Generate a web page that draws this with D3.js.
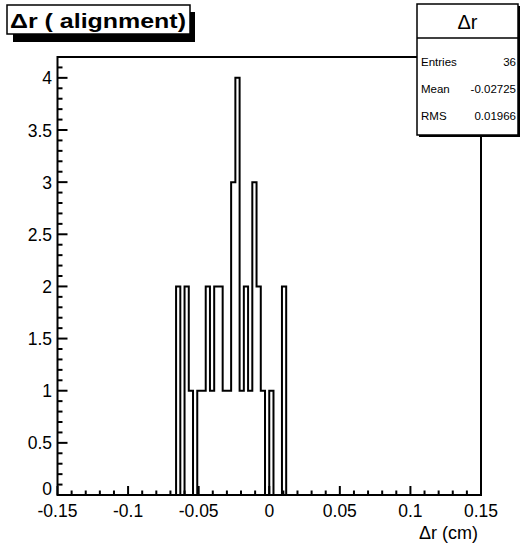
<!DOCTYPE html>
<html>
<head>
<meta charset="utf-8">
<script src="https://cdn.jsdelivr.net/npm/d3@7"></script>
<style>
	body{margin:0;background:#fff;}
	svg{display:block;font-family:"Liberation Sans",Arial,Helvetica,sans-serif;}
</style>
</head>
<body>
<svg id="chart" width="525" height="550"></svg>
<script>
// histogram binning (ROOT TH1: 100 bins from -0.15 to 0.15)
const nBins = 100;
const xRange = [-0.15, 0.15];
// filled bins: index of the bin and its count
const binIndex = [28, 30, 31, 33, 34, 35, 36, 37, 38, 39, 40, 41, 42, 43, 44, 45, 46, 47, 48, 50, 53];
const binCount = [ 2,  2,  1,  1,  1,  2,  1,  2,  2,  1,  1,  3,  4,  1,  2,  1,  3,  2,  1,  1,  2];

const xTicks = [-0.15, -0.1, -0.05, 0, 0.05, 0.1, 0.15];
const yTicks = [0, 0.5, 1, 1.5, 2, 2.5, 3, 3.5, 4];
const yMax = 4.2;

const histTitle = "\u0394r ( alignment)";
const statName = "\u0394r";
const statLabels = ["Entries", "Mean", "RMS"];
const statValues = ["36", "-0.02725", "0.01966"];
const xTitle = "\u0394r (cm)";

const margin = {top: 57, right: 44, bottom: 55, left: 57.5};
const W = 525, H = 550;
const svg = d3.select("#chart");

const x = d3.scaleLinear().domain(xRange).range([margin.left, W - margin.right]);
const y = d3.scaleLinear().domain([0, yMax]).range([H - margin.bottom, margin.top]);

// full content array
const counts = new Array(nBins).fill(0);
binIndex.forEach((b, i) => counts[b] = binCount[i]);
const bw = (xRange[1] - xRange[0]) / nBins;

// step outline
let pts = [[xRange[0], 0]];
counts.forEach((c, i) => {
	let lo = xRange[0] + i * bw;
	pts.push([lo, c]);
	pts.push([lo + bw, c]);
});
pts.push([xRange[1], 0]);

svg.append("path")
	.attr("d", d3.line().x(d => x(d[0])).y(d => y(d[1]))(pts))
	.attr("fill", "none")
	.attr("stroke", "#000")
	.attr("stroke-width", 2)
	.attr("stroke-linejoin", "miter");

// frame
svg.append("rect")
	.attr("x", x(xRange[0]))
	.attr("y", y(yMax))
	.attr("width", x(xRange[1]) - x(xRange[0]))
	.attr("height", y(0) - y(yMax))
	.attr("fill", "none")
	.attr("stroke", "#000")
	.attr("stroke-width", 2);

// x axis ticks
const xMinor = d3.range(-15, 16).map(d => d / 100);
svg.append("g").selectAll("line")
	.data(xMinor)
	.join("line")
	.attr("x1", d => x(d)).attr("x2", d => x(d))
	.attr("y1", y(0))
	.attr("y2", (d, i) => y(0) - (i % 5 === 0 ? 9 : 4.5))
	.attr("stroke", "#000")
	.attr("stroke-width", 2);

svg.append("g").selectAll("text")
	.data(xTicks)
	.join("text")
	.attr("x", d => x(d))
	.attr("y", y(0) + 22)
	.attr("text-anchor", "middle")
	.attr("font-size", 17.5)
	.text(d => String(d));

// y axis ticks
const yMinor = d3.range(0, 43).map(d => d / 10);
svg.append("g").selectAll("line")
	.data(yMinor)
	.join("line")
	.attr("x1", x(xRange[0]))
	.attr("x2", (d, i) => x(xRange[0]) + (i % 5 === 0 ? 10 : 5))
	.attr("y1", d => y(d)).attr("y2", d => y(d))
	.attr("stroke", "#000")
	.attr("stroke-width", 2);

svg.append("g").selectAll("text")
	.data(yTicks)
	.join("text")
	.attr("x", 52)
	.attr("y", d => y(d) + (d === 0 ? 0 : 6.5))
	.attr("text-anchor", "end")
	.attr("font-size", 17.5)
	.text(d => d);

svg.append("text")
	.attr("x", x(xRange[1]) - 3)
	.attr("y", 539)
	.attr("text-anchor", "end")
	.attr("font-size", 18)
	.text(xTitle);

// title box
svg.append("rect").attr("x", 13).attr("y", 12).attr("width", 182).attr("height", 30).attr("fill", "#000");
svg.append("rect").attr("x", 7).attr("y", 5).attr("width", 183).attr("height", 29)
	.attr("fill", "#fff").attr("stroke", "#000").attr("stroke-width", 1.5);
svg.append("text")
	.attr("x", 10).attr("y", 28)
	.attr("font-size", 21)
	.attr("font-weight", "bold")
	.attr("textLength", 176)
	.attr("lengthAdjust", "spacingAndGlyphs")
	.text(histTitle);

// stats box
const sb = {x: 417, y: 4, w: 101, h: 131};
svg.append("rect").attr("x", sb.x + 2).attr("y", sb.y + 2).attr("width", sb.w).attr("height", sb.h).attr("fill", "#000");
svg.append("rect").attr("x", sb.x).attr("y", sb.y).attr("width", sb.w).attr("height", sb.h)
	.attr("fill", "#fff").attr("stroke", "#000").attr("stroke-width", 1.5);
svg.append("line").attr("x1", sb.x).attr("x2", sb.x + sb.w).attr("y1", 38).attr("y2", 38)
	.attr("stroke", "#000").attr("stroke-width", 1.5);
svg.append("text")
	.attr("x", sb.x + sb.w / 2).attr("y", 29)
	.attr("text-anchor", "middle")
	.attr("font-size", 20)
	.text(statName);
const rowY = [66, 93, 120];
statLabels.forEach((l, i) => {
	svg.append("text").attr("x", sb.x + 4).attr("y", rowY[i])
		.attr("font-size", 11.5).text(l);
	svg.append("text").attr("x", sb.x + sb.w - 2).attr("y", rowY[i])
		.attr("text-anchor", "end").attr("font-size", 11.5).text(statValues[i]);
});
</script>
</body>
</html>
